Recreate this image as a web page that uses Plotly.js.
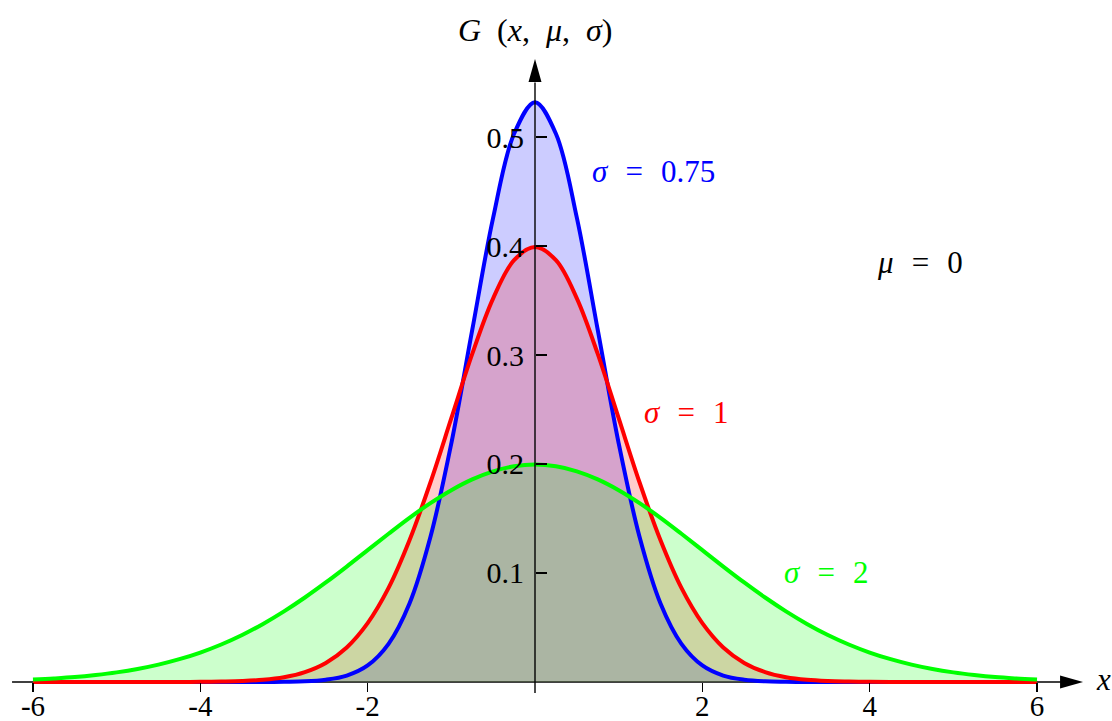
<!DOCTYPE html>
<html>
<head>
<meta charset="utf-8">
<script src="https://cdn.plot.ly/plotly-3.0.1.min.js"></script>
<style>
  html, body { margin: 0; padding: 0; background: #fff; }
  #chart { width: 1112px; height: 721px; }
</style>
</head>
<body>
<div id="chart"></div>
<script>
// sample positions along x
const xs = [-6, -5.75, -5.5, -5.25, -5, -4.75, -4.5, -4.25, -4, -3.75, -3.5, -3.25,
    -3, -2.75, -2.5, -2.25, -2, -1.75, -1.5, -1.25, -1, -0.75, -0.5, -0.25,
    0, 0.25, 0.5, 0.75, 1, 1.25, 1.5, 1.75, 2, 2.25, 2.5, 2.75,
    3, 3.25, 3.5, 3.75, 4, 4.25, 4.5, 4.75, 5, 5.25, 5.5, 5.75, 6];

// sigma = 0.75
const gaussNarrow = [0, 0, 0, 0, 0, 0, 0, 0, 0, 0, 0, 0,
    0.0002, 0.0006, 0.0021, 0.0059, 0.0152, 0.035, 0.072, 0.133, 0.219, 0.323, 0.426, 0.503,
    0.532,
    0.503, 0.426, 0.323, 0.219, 0.133, 0.072, 0.035, 0.0152, 0.0059, 0.0021, 0.0006, 0.0002,
    0, 0, 0, 0, 0, 0, 0, 0, 0, 0, 0, 0];

// sigma = 1
const gaussMid = [0, 0, 0, 0, 0, 0, 0, 0,
    0.0001, 0.0004, 0.0009, 0.002, 0.0044, 0.0091, 0.0175, 0.0317, 0.054, 0.0863, 0.13, 0.183, 0.242, 0.301, 0.352, 0.387,
    0.399,
    0.387, 0.352, 0.301, 0.242, 0.183, 0.13, 0.0863, 0.054, 0.0317, 0.0175, 0.0091, 0.0044, 0.002, 0.0009, 0.0004, 0.0001,
    0, 0, 0, 0, 0, 0, 0, 0];

// sigma = 2
const gaussWide = [0.0022, 0.0032, 0.0045, 0.0064, 0.0088, 0.0119, 0.0159, 0.0209, 0.027, 0.0344, 0.0431, 0.0533,
    0.0648, 0.0775, 0.0913, 0.1059, 0.121, 0.136, 0.1506, 0.1641, 0.176, 0.1859, 0.1933, 0.1979,
    0.1995,
    0.1979, 0.1933, 0.1859, 0.176, 0.1641, 0.1506, 0.136, 0.121, 0.1059, 0.0913, 0.0775, 0.0648,
    0.0533, 0.0431, 0.0344, 0.027, 0.0209, 0.0159, 0.0119, 0.0088, 0.0064, 0.0045, 0.0032, 0.0022];

const xTickVals = [-6, -4, -2, 2, 4, 6];
const xTickText = ['-6', '-4', '-2', '2', '4', '6'];
const yTickVals = [0.1, 0.2, 0.3, 0.4, 0.5];
const yTickText = ['0.1', '0.2', '0.3', '0.4', '0.5'];

const FONT = '"Liberation Serif", "DejaVu Serif", serif';
const EQ = '\u2002\u200A=\u2002\u200A';   // wide spacing around "=" like TeX
const SP = '\u2002';

const curves = [
    {y: gaussNarrow, color: '#0000ff', fill: 'rgba(0,0,255,0.2)'},
    {y: gaussMid, color: '#ff0000', fill: 'rgba(255,0,0,0.2)'},
    {y: gaussWide, color: '#00ff00', fill: 'rgba(0,255,0,0.2)'}
];

// fills first, then all the outlines on top
const traces = [];
curves.forEach(c => {
    traces.push({
        x: xs, y: c.y, type: 'scatter', mode: 'lines',
        line: {color: c.fill, width: 0, shape: 'spline', smoothing: 1},
        fill: 'tozeroy', fillcolor: c.fill, hoverinfo: 'skip'
    });
});
curves.forEach(c => {
    traces.push({
        x: xs, y: c.y, type: 'scatter', mode: 'lines',
        line: {color: c.color, width: 4, shape: 'spline', smoothing: 1},
        hoverinfo: 'skip'
    });
});

function label(text, x, y, color, size) {
    return {
        text: text, x: x, y: y, xref: 'x', yref: 'y',
        showarrow: false, xanchor: 'center', yanchor: 'middle',
        font: {family: FONT, size: size || 31, color: color}
    };
}

const layout = {
    width: 1112,
    height: 721,
    autosize: false,
    margin: {l: 0, r: 0, t: 0, b: 0, pad: 0},
    paper_bgcolor: '#fff',
    plot_bgcolor: '#fff',
    showlegend: false,
    font: {family: FONT, size: 30, color: '#000'},
    xaxis: {
        range: [-6.394, 6.896],
        anchor: 'free',
        position: 0.0541,
        showgrid: false,
        zeroline: false,
        showline: false,
        ticks: 'outside',
        ticklen: 9,
        tickwidth: 1.3,
        tickcolor: '#000',
        tickvals: xTickVals,
        ticktext: xTickText,
        tickfont: {size: 29},
        ticklabelstandoff: -11,
        automargin: false,
        fixedrange: true
    },
    yaxis: {
        range: [-0.0358, 0.6257],
        anchor: 'free',
        position: 0.4811,
        side: 'left',
        showgrid: false,
        zeroline: false,
        showline: false,
        ticks: 'inside',
        ticklen: 11,
        tickwidth: 1.3,
        tickcolor: '#000',
        tickvals: yTickVals,
        ticktext: yTickText,
        ticklabelstandoff: 11,
        automargin: false,
        fixedrange: true
    },
    shapes: [
        {type: 'line', xref: 'x', yref: 'y', x0: -6.25, x1: 6.35, y0: 0, y1: 0,
            layer: 'below', line: {color: '#000', width: 1.4}},
        {type: 'path', xref: 'x', yref: 'y', xsizemode: 'pixel', ysizemode: 'pixel',
            xanchor: 6.55, yanchor: 0, path: 'M0,0 L-23,-6.5 L-23,6.5 Z',
            fillcolor: '#000', line: {width: 0}, layer: 'below'},
        {type: 'line', xref: 'x', yref: 'y', x0: 0, x1: 0, y0: -0.0101, y1: 0.55,
            layer: 'above', line: {color: '#000', width: 1.4}},
        {type: 'path', xref: 'x', yref: 'y', xsizemode: 'pixel', ysizemode: 'pixel',
            xanchor: 0, yanchor: 0.5716, path: 'M0,0 L-6.5,-23 L6.5,-23 Z',
            fillcolor: '#000', line: {width: 0}, layer: 'below'}
    ],
    annotations: [
        label('<i>G</i>' + SP + '(<i>x</i>,' + SP + '<i>μ</i>,' + SP + '<i>σ</i>)', 0, 0.598, '#000', 32),
        label('<i>σ</i>' + EQ + '0.75', 1.422, 0.468, '#0000ff'),
        label('<i>μ</i>' + EQ + '0', 4.60, 0.385, '#000'),
        label('<i>σ</i>' + EQ + '1', 1.805, 0.247, '#ff0000'),
        label('<i>σ</i>' + EQ + '2', 3.478, 0.100, '#00ff00'),
        label('<i>x</i>', 6.80, 0.002, '#000')
    ]
};

Plotly.newPlot('chart', traces, layout, {displayModeBar: false, staticPlot: true});
</script>
</body>
</html>
